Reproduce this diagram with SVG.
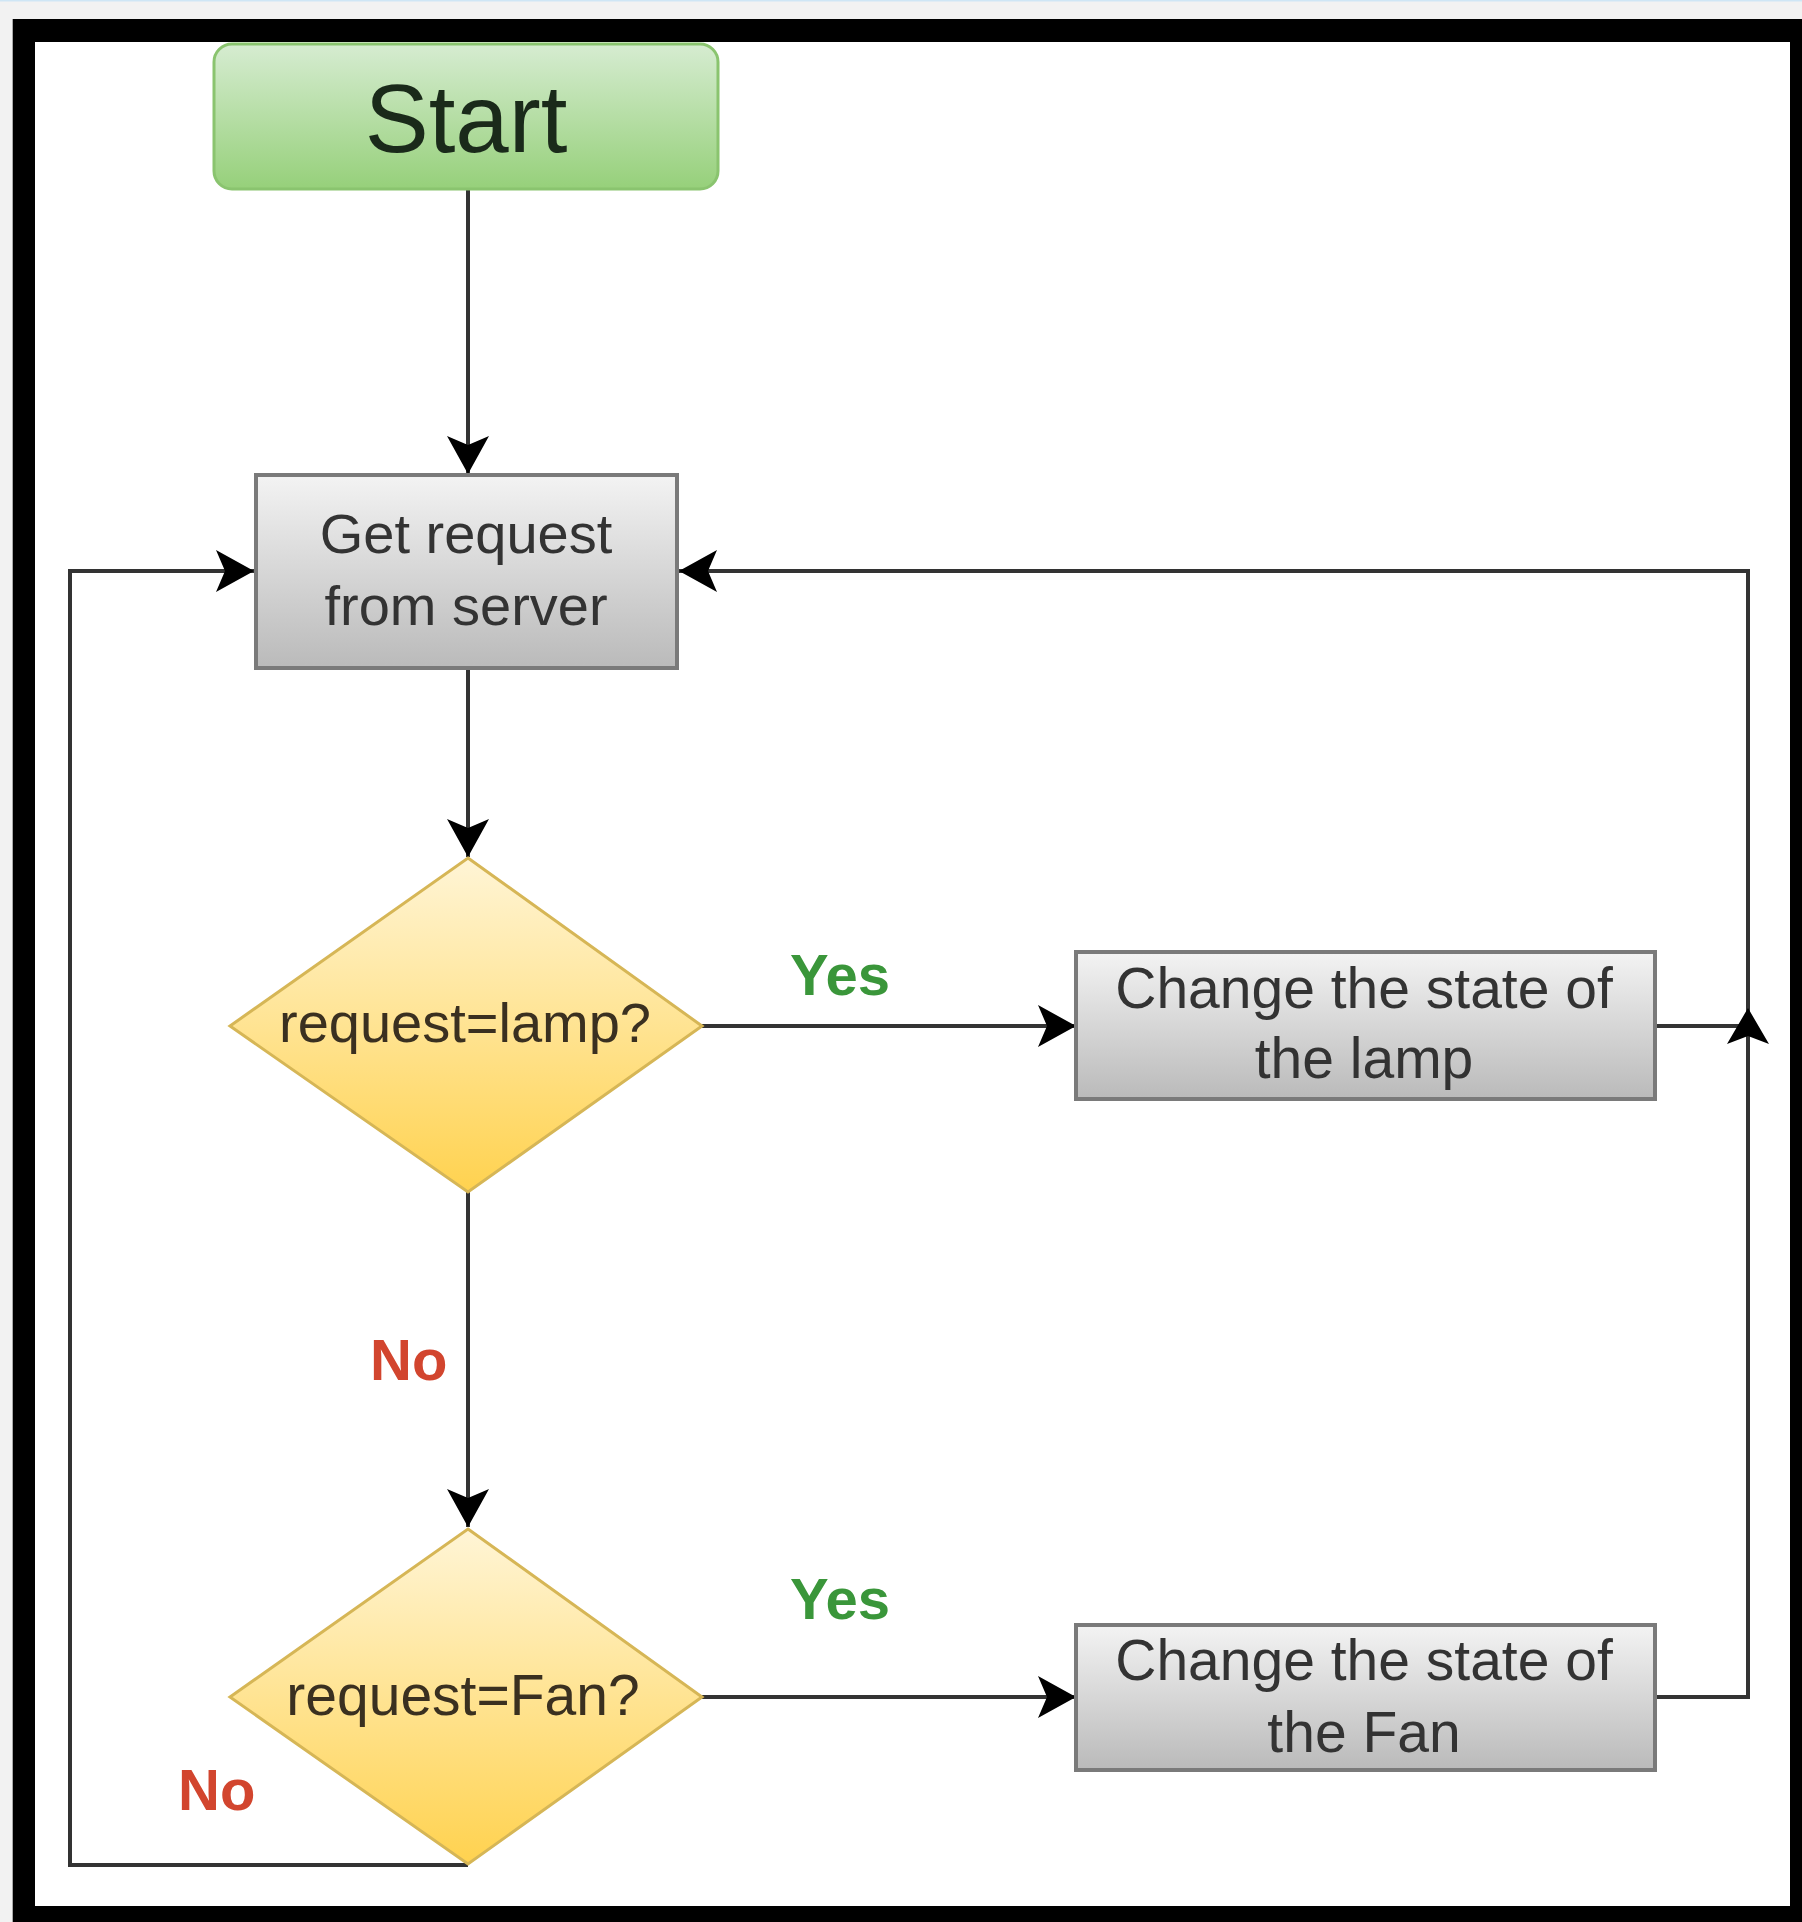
<svg xmlns="http://www.w3.org/2000/svg" width="1802" height="1922" viewBox="0 0 1802 1922">
  <style>
    .lbl { font-family: "Liberation Sans", Arial, sans-serif; text-anchor: middle; }
    .box { fill: url(#gGray); stroke: #7a7a7a; stroke-width: 4; }
    .dia { fill: url(#gYellow); stroke: #d6b656; stroke-width: 3; }
    .conn { fill: none; stroke: #333333; stroke-width: 4; }
    .yes { font-family: "Liberation Sans", Arial, sans-serif; font-weight: bold; fill: #3a963a; font-size: 58px; }
    .no { font-family: "Liberation Sans", Arial, sans-serif; font-weight: bold; fill: #d2452e; font-size: 58px; }
  </style>
  <defs>
    <linearGradient id="gGreen" x1="0" y1="0" x2="0" y2="1">
      <stop offset="0" stop-color="#d6ecd1"/>
      <stop offset="1" stop-color="#96d07a"/>
    </linearGradient>
    <linearGradient id="gGray" x1="0" y1="0" x2="0" y2="1">
      <stop offset="0" stop-color="#f3f3f3"/>
      <stop offset="1" stop-color="#bababa"/>
    </linearGradient>
    <linearGradient id="gYellow" x1="0" y1="0" x2="0" y2="1">
      <stop offset="0" stop-color="#fff5d6"/>
      <stop offset="1" stop-color="#ffd24f"/>
    </linearGradient>
    <marker id="arr" markerUnits="userSpaceOnUse" markerWidth="40" markerHeight="42" viewBox="0 0 40 42" refX="38" refY="21" orient="auto">
      <path d="M38,21 L0,0 L9,21 L0,42 Z" fill="#000"/>
    </marker>
  </defs>

  <!-- background and frame -->
  <rect x="0" y="0" width="1802" height="1922" fill="#f2f2f2"/>
  <rect x="0" y="0" width="1802" height="1.5" fill="#cfe6f5"/>
  <rect x="12.7" y="19" width="1789.3" height="1903" fill="#000"/>
  <rect x="35" y="42" width="1755" height="1864" fill="#ffffff"/>

  <g id="connectors">
    <path class="conn" d="M468,190 L468,474" marker-end="url(#arr)"/>
    <path class="conn" d="M468,668 L468,857" marker-end="url(#arr)"/>
    <path class="conn" d="M702,1026 L1076,1026" marker-end="url(#arr)"/>
    <path class="conn" d="M468,1192 L468,1527" marker-end="url(#arr)"/>
    <path class="conn" d="M702,1697 L1076,1697" marker-end="url(#arr)"/>
    <path class="conn" d="M468,1865 L70,1865 L70,571 L254,571" marker-end="url(#arr)"/>
    <path class="conn" d="M1655,1697 L1748,1697 L1748,571 L679,571" marker-end="url(#arr)"/>
    <path class="conn" d="M1655,1026 L1748,1026"/>
    <path d="M1748,1008 L1769,1044 L1748,1036 L1727,1044 Z" fill="#000"/>
  </g>

  <g id="start">
    <rect x="214" y="44" width="504" height="145" rx="18" fill="url(#gGreen)" stroke="#8ac46f" stroke-width="3"/>
    <text class="lbl" x="466" y="152" font-size="96" fill="#1a2a1a">Start</text>
  </g>

  <g id="get-request">
    <rect class="box" x="256" y="475" width="421" height="193"/>
    <text class="lbl" x="466" y="553" font-size="56" fill="#333">Get request</text>
    <text class="lbl" x="466" y="625" font-size="56" fill="#333">from server</text>
  </g>

  <g id="decision-lamp">
    <path class="dia" d="M468,858 L702,1026 L468,1192 L230,1026 Z"/>
    <text class="lbl" x="465" y="1042" font-size="56" fill="#3a3020">request=lamp?</text>
  </g>

  <g id="change-lamp">
    <rect class="box" x="1076" y="952" width="579" height="147"/>
    <text class="lbl" x="1364" y="1008" font-size="57" fill="#333">Change the state of</text>
    <text class="lbl" x="1364" y="1078" font-size="57" fill="#333">the lamp</text>
  </g>

  <g id="decision-fan">
    <path class="dia" d="M468,1529 L702,1697 L468,1864 L230,1697 Z"/>
    <text class="lbl" x="463" y="1715" font-size="57" fill="#3a3020">request=Fan?</text>
  </g>

  <g id="change-fan">
    <rect class="box" x="1076" y="1625" width="579" height="145"/>
    <text class="lbl" x="1364" y="1680" font-size="57" fill="#333">Change the state of</text>
    <text class="lbl" x="1364" y="1752" font-size="57" fill="#333">the Fan</text>
  </g>

  <g id="labels">
    <text class="yes" x="790" y="995">Yes</text>
    <text class="yes" x="790" y="1619">Yes</text>
    <text class="no" x="370" y="1380">No</text>
    <text class="no" x="178" y="1810">No</text>
  </g>
</svg>
